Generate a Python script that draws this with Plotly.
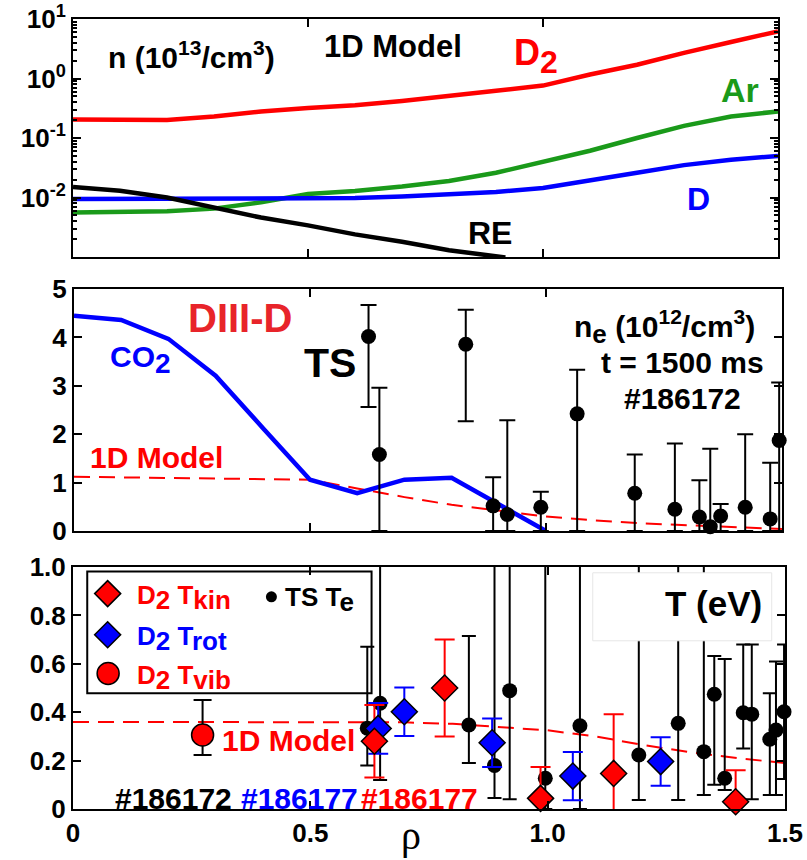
import plotly.graph_objects as go

# ---------------- data ----------------
# top panel: 1D model densities (1e13 cm^-3)
rho_top = [0, 0.1, 0.2, 0.3, 0.4, 0.5, 0.6, 0.7, 0.8, 0.9, 1.0, 1.1, 1.2, 1.3, 1.4, 1.5]
n_D2 = [0.205, 0.200, 0.200, 0.23, 0.28, 0.32, 0.355, 0.42, 0.50, 0.62, 0.76, 1.17, 1.7, 2.7, 4.1, 6.2]
n_Ar = [0.0056, 0.0057, 0.0059, 0.0065, 0.0083, 0.0114, 0.0129, 0.0153, 0.019, 0.026, 0.039, 0.061, 0.10, 0.16, 0.23, 0.28]
n_D = [0.0094, 0.0094, 0.0094, 0.0094, 0.0094, 0.0095, 0.0098, 0.0104, 0.0112, 0.0124, 0.0145, 0.019, 0.026, 0.035, 0.043, 0.050]
rho_re = [0, 0.1, 0.2, 0.3, 0.4, 0.5, 0.6, 0.7, 0.8, 0.92]
n_RE = [0.015, 0.013, 0.0100, 0.0068, 0.0046, 0.0034, 0.0024, 0.0018, 0.0013, 0.00098]

# middle panel: electron density (1e12 cm^-3)
rho_co2 = [0, 0.1, 0.2, 0.3, 0.4, 0.5, 0.6, 0.7, 0.8, 0.9, 1.0]
ne_co2 = [4.45, 4.36, 3.97, 3.21, 2.13, 1.06, 0.78, 1.06, 1.10, 0.55, 0.0]
rho_nmod = [0, 0.2, 0.4, 0.5, 0.6, 0.7, 0.8, 0.9, 1.0, 1.1, 1.2, 1.3, 1.4, 1.5]
ne_mod = [1.12, 1.09, 1.07, 1.06, 0.88, 0.70, 0.54, 0.42, 0.30, 0.22, 0.16, 0.12, 0.08, 0.04]
ts_rho = [0.624, 0.647, 0.830, 0.888, 0.918, 0.989, 1.066, 1.188, 1.273, 1.325, 1.348, 1.370, 1.422, 1.475, 1.494]
ts_ne = [4.02, 1.58, 3.86, 0.52, 0.34, 0.49, 2.42, 0.78, 0.45, 0.29, 0.09, 0.31, 0.49, 0.25, 1.87]
ts_ne_up = [0.65, 1.38, 0.71, 0.59, 1.95, 0.32, 0.91, 0.80, 1.36, 0.76, 1.61, 0.25, 1.51, 1.16, 1.20]
ts_ne_dn = [1.46, 1.58, 1.59, 0.52, 0.34, 0.49, 2.42, 0.78, 0.45, 0.29, 0.09, 0.31, 0.49, 0.25, 1.87]

# bottom panel: temperatures (eV)
rho_tmod = [0, 0.5, 0.6, 0.7, 0.8, 0.9, 1.0, 1.1, 1.2, 1.3, 1.4, 1.5]
t_mod = [0.36, 0.36, 0.36, 0.358, 0.352, 0.34, 0.325, 0.30, 0.265, 0.235, 0.21, 0.19]
te_rho = [0.62, 0.647, 0.834, 0.888, 0.92, 0.995, 1.068, 1.192, 1.275, 1.329, 1.351, 1.373, 1.412, 1.43, 1.468, 1.481, 1.498]
te = [0.334, 0.437, 0.347, 0.18, 0.489, 0.127, 0.344, 0.223, 0.354, 0.237, 0.474, 0.127, 0.398, 0.392, 0.288, 0.326, 0.402]
te_up = [0.336, 0.80, 0.368, 0.85, 0.70, 0.90, 0.75, 0.80, 0.70, 0.80, 0.158, 0.493, 0.282, 0.288, 0.19, 0.283, 0.278]
te_dn = [0.154, 0.317, 0.157, 0.135, 0.449, 0.127, 0.344, 0.186, 0.317, 0.179, 0.374, 0.049, 0.148, 0.352, 0.23, 0.268, 0.278]
kin_rho = [0.635, 0.783, 0.985, 1.139, 1.396]
t_kin = [0.28, 0.50, 0.044, 0.147, 0.03]
t_kin_err = [0.15, 0.20, 0.13, 0.245, 0.13]
rot_rho = [0.643, 0.698, 0.883, 1.053, 1.238]
t_rot = [0.333, 0.402, 0.274, 0.136, 0.196]
t_rot_err = [0.105, 0.10, 0.10, 0.10, 0.10]
vib_rho = [0.273]
t_vib = [0.306]
t_vib_up = [0.144]
t_vib_dn = [0.083]

x_ticks = [0, 0.5, 1.0, 1.5]
x_ticklabels = ["0", "0.5", "1.0", "1.5"]

RED = "#ff0000"
BLUE = "#0000ff"
GREEN = "#1a9a1a"
FONT = "Liberation Sans, Arial, sans-serif"

fig = go.Figure()

# ---- top panel ----
fig.add_trace(go.Scatter(x=rho_top, y=n_D2, mode="lines", line=dict(color=RED, width=4.5), xaxis="x", yaxis="y"))
fig.add_trace(go.Scatter(x=rho_top, y=n_Ar, mode="lines", line=dict(color=GREEN, width=4.5), xaxis="x", yaxis="y"))
fig.add_trace(go.Scatter(x=rho_top, y=n_D, mode="lines", line=dict(color=BLUE, width=4.5), xaxis="x", yaxis="y"))
fig.add_trace(go.Scatter(x=rho_re, y=n_RE, mode="lines", line=dict(color="black", width=4.5), xaxis="x", yaxis="y"))

# ---- middle panel ----
fig.add_trace(go.Scatter(x=rho_nmod, y=ne_mod, mode="lines", line=dict(color=RED, width=2, dash="16px,9px"), xaxis="x2", yaxis="y2"))
fig.add_trace(go.Scatter(x=rho_co2, y=ne_co2, mode="lines", line=dict(color=BLUE, width=4.5), xaxis="x2", yaxis="y2"))
fig.add_trace(go.Scatter(x=ts_rho, y=ts_ne, mode="markers", marker=dict(color="rgba(0,0,0,0)", size=1),
                         error_y=dict(type="data", symmetric=False, array=ts_ne_up, arrayminus=ts_ne_dn,
                                      color="black", thickness=2, width=8), xaxis="x2", yaxis="y2"))
fig.add_trace(go.Scatter(x=ts_rho, y=ts_ne, mode="markers", marker=dict(color="black", size=15),
                         cliponaxis=False, xaxis="x2", yaxis="y2"))

# ---- bottom panel ----
fig.add_trace(go.Scatter(x=rho_tmod, y=t_mod, mode="lines", line=dict(color=RED, width=2, dash="16px,9px"), xaxis="x3", yaxis="y3"))
fig.add_trace(go.Scatter(x=te_rho, y=te, mode="markers", marker=dict(color="rgba(0,0,0,0)", size=1),
                         error_y=dict(type="data", symmetric=False, array=te_up, arrayminus=te_dn,
                                      color="black", thickness=2, width=7), xaxis="x3", yaxis="y3"))
fig.add_trace(go.Scatter(x=te_rho, y=te, mode="markers", marker=dict(color="black", size=15),
                         cliponaxis=False, xaxis="x3", yaxis="y3"))
fig.add_trace(go.Scatter(x=vib_rho, y=t_vib, mode="markers",
                         marker=dict(color=RED, size=22, line=dict(color="black", width=1.5)),
                         error_y=dict(type="data", symmetric=False, array=t_vib_up, arrayminus=t_vib_dn,
                                      color="black", thickness=2, width=9),
                         cliponaxis=False, xaxis="x3", yaxis="y3"))
fig.add_trace(go.Scatter(x=rot_rho, y=t_rot, mode="markers", marker=dict(color="rgba(0,0,0,0)", size=1),
                         error_y=dict(type="data", array=t_rot_err, color=BLUE, thickness=2, width=10),
                         xaxis="x3", yaxis="y3"))
fig.add_trace(go.Scatter(x=kin_rho, y=t_kin, mode="markers", marker=dict(color="rgba(0,0,0,0)", size=1),
                         error_y=dict(type="data", array=t_kin_err, color=RED, thickness=2, width=10),
                         xaxis="x3", yaxis="y3"))
fig.add_trace(go.Scatter(x=rot_rho, y=t_rot, mode="markers",
                         marker=dict(symbol="diamond", color=BLUE, size=20, line=dict(color="black", width=1.5)),
                         cliponaxis=False, xaxis="x3", yaxis="y3"))
fig.add_trace(go.Scatter(x=kin_rho, y=t_kin, mode="markers",
                         marker=dict(symbol="diamond", color=RED, size=20, line=dict(color="black", width=1.5)),
                         cliponaxis=False, xaxis="x3", yaxis="y3"))

# legend glyphs (drawn in bottom panel data space)
fig.add_trace(go.Scatter(x=[0.073], y=[0.89], mode="markers",
                         marker=dict(symbol="diamond", color=RED, size=20, line=dict(color="black", width=1.5)),
                         cliponaxis=False, xaxis="x3", yaxis="y3"))
fig.add_trace(go.Scatter(x=[0.073], y=[0.72], mode="markers",
                         marker=dict(symbol="diamond", color=BLUE, size=20, line=dict(color="black", width=1.5)),
                         cliponaxis=False, xaxis="x3", yaxis="y3"))
fig.add_trace(go.Scatter(x=[0.074], y=[0.56], mode="markers",
                         marker=dict(color=RED, size=22, line=dict(color="black", width=1.5)),
                         cliponaxis=False, xaxis="x3", yaxis="y3"))
fig.add_trace(go.Scatter(x=[0.418], y=[0.877], mode="markers", marker=dict(color="black", size=11),
                         cliponaxis=False, xaxis="x3", yaxis="y3"))

W, H = 807, 860
def dom_x(a, b):
    return [a / W, b / W]
def dom_y(top, bot):
    return [1 - bot / H, 1 - top / H]

axis_common = dict(showline=True, linecolor="black", linewidth=2, mirror="ticks", ticks="inside",
                   ticklen=8, tickwidth=2, tickcolor="black", showgrid=False, zeroline=False,
                   automargin=False,
                   tickfont=dict(family=FONT, size=26, color="black", weight="bold"))

minor_vals = [m * 10 ** e for e in (-3, -2, -1, 0) for m in range(2, 10)]

fig.update_layout(
    template="none",
    width=W, height=H, margin=dict(l=0, r=0, t=0, b=0, autoexpand=False),
    paper_bgcolor="white", plot_bgcolor="white", showlegend=False,
    xaxis=dict(domain=dom_x(73, 778), range=[0, 1.5], anchor="y", tickvals=x_ticks,
               showticklabels=False, **axis_common),
    yaxis=dict(domain=dom_y(19, 257), type="log", range=[-3, 1], anchor="x",
               tickvals=[10, 1, 0.1, 0.01],
               ticktext=["10<sup>1</sup>", "10<sup>0</sup>", "10<sup>-1</sup>", "10<sup>-2</sup>"],
               minor=dict(ticks="inside", ticklen=4, tickwidth=1.5, tickcolor="black", tickvals=minor_vals),
               **axis_common),
    xaxis2=dict(domain=dom_x(74, 782), range=[0, 1.5], anchor="y2", tickvals=x_ticks,
                showticklabels=False, **axis_common),
    yaxis2=dict(domain=dom_y(289, 531), range=[0, 5], anchor="x2", tickvals=[0, 1, 2, 3, 4, 5],
                **axis_common),
    xaxis3=dict(domain=dom_x(73, 785), range=[0, 1.5], anchor="y3", tickvals=x_ticks,
                ticktext=x_ticklabels, **axis_common),
    yaxis3=dict(domain=dom_y(567, 809), range=[0, 1.0], anchor="x3",
                tickvals=[0, 0.2, 0.4, 0.6, 0.8, 1.0], ticktext=["0", "0.2", "0.4", "0.6", "0.8", "1.0"],
                **axis_common),
)

shapes = [
    # legend box
    dict(type="rect", xref="x3", yref="y3", x0=0.030, x1=0.629, y0=0.478, y1=0.981,
         line=dict(color="black", width=2), fillcolor="white", layer="below"),
    # T (eV) box
    dict(type="rect", xref="x3", yref="y3", x0=1.095, x1=1.472, y0=0.695, y1=0.976,
         line=dict(color="#e6e6e6", width=1), fillcolor="white", layer="above"),
]
fig.update_layout(shapes=shapes)

def ann(text, x, y, xr, yr, size, color="black", xanchor="center", family=FONT, bold=True, yanchor="middle"):
    return dict(text=text, x=x, y=y, xref=xr, yref=yr, showarrow=False, xanchor=xanchor, yanchor=yanchor,
                font=dict(family=family, size=size, color=color, weight="bold" if bold else "normal"))

def sub(t, px):
    return "<sub><span style='font-size:%dpx'>%s</span></sub>" % (px, t)

annotations = [
    # top
    ann("n (10<sup>13</sup>/cm<sup>3</sup>)", 0.252, 0.40, "x", "y", 30),
    ann("1D Model", 0.681, 0.54, "x", "y", 31),
    ann("D" + sub("2", 32), 0.986, 0.38, "x", "y", 36, RED),
    ann("Ar", 1.419, -0.20, "x", "y", 34, GREEN),
    ann("D", 1.33, -2.02, "x", "y", 32, BLUE),
    ann("RE", 0.887, -2.594, "x", "y", 32),
    # middle
    ann("DIII-D", 0.352, 4.40, "x2", "y2", 40, "#e8242a"),
    ann("CO" + sub("2", 28), 0.14, 3.55, "x2", "y2", 30, BLUE),
    ann("1D Model", 0.174, 1.51, "x2", "y2", 30, RED),
    ann("TS", 0.542, 3.47, "x2", "y2", 41),
    ann("n" + sub("e", 26) + " (10<sup>12</sup>/cm<sup>3</sup>)", 1.252, 4.22, "x2", "y2", 30),
    ann("t = 1500 ms", 1.29, 3.49, "x2", "y2", 30),
    ann("#186172", 1.29, 2.73, "x2", "y2", 30),
    # bottom
    ann("1D Model", 0.455, 0.285, "x3", "y3", 30, RED),
    ann("#186172", 0.212, 0.045, "x3", "y3", 30),
    ann("#186177", 0.478, 0.045, "x3", "y3", 30, BLUE),
    ann("#186177", 0.731, 0.045, "x3", "y3", 30, RED),
    ann("T (eV)", 1.35, 0.85, "x3", "y3", 35),
    ann("D" + sub("2", 26) + " T" + sub("kin", 26), 0.131, 0.875, "x3", "y3", 26, RED, "left"),
    ann("D" + sub("2", 26) + " T" + sub("rot", 26), 0.131, 0.705, "x3", "y3", 26, BLUE, "left"),
    ann("D" + sub("2", 26) + " T" + sub("vib", 26), 0.131, 0.545, "x3", "y3", 26, RED, "left"),
    ann("TS T" + sub("e", 26), 0.442, 0.865, "x3", "y3", 26, "black", "left"),
    # axis title
    ann("\u03c1", 411 / W, 0.0, "paper", "paper", 40, "black", "center",
        "Liberation Serif, Times New Roman, serif", False, "bottom"),
]
fig.update_layout(annotations=annotations)

fig.write_html("out.html")
